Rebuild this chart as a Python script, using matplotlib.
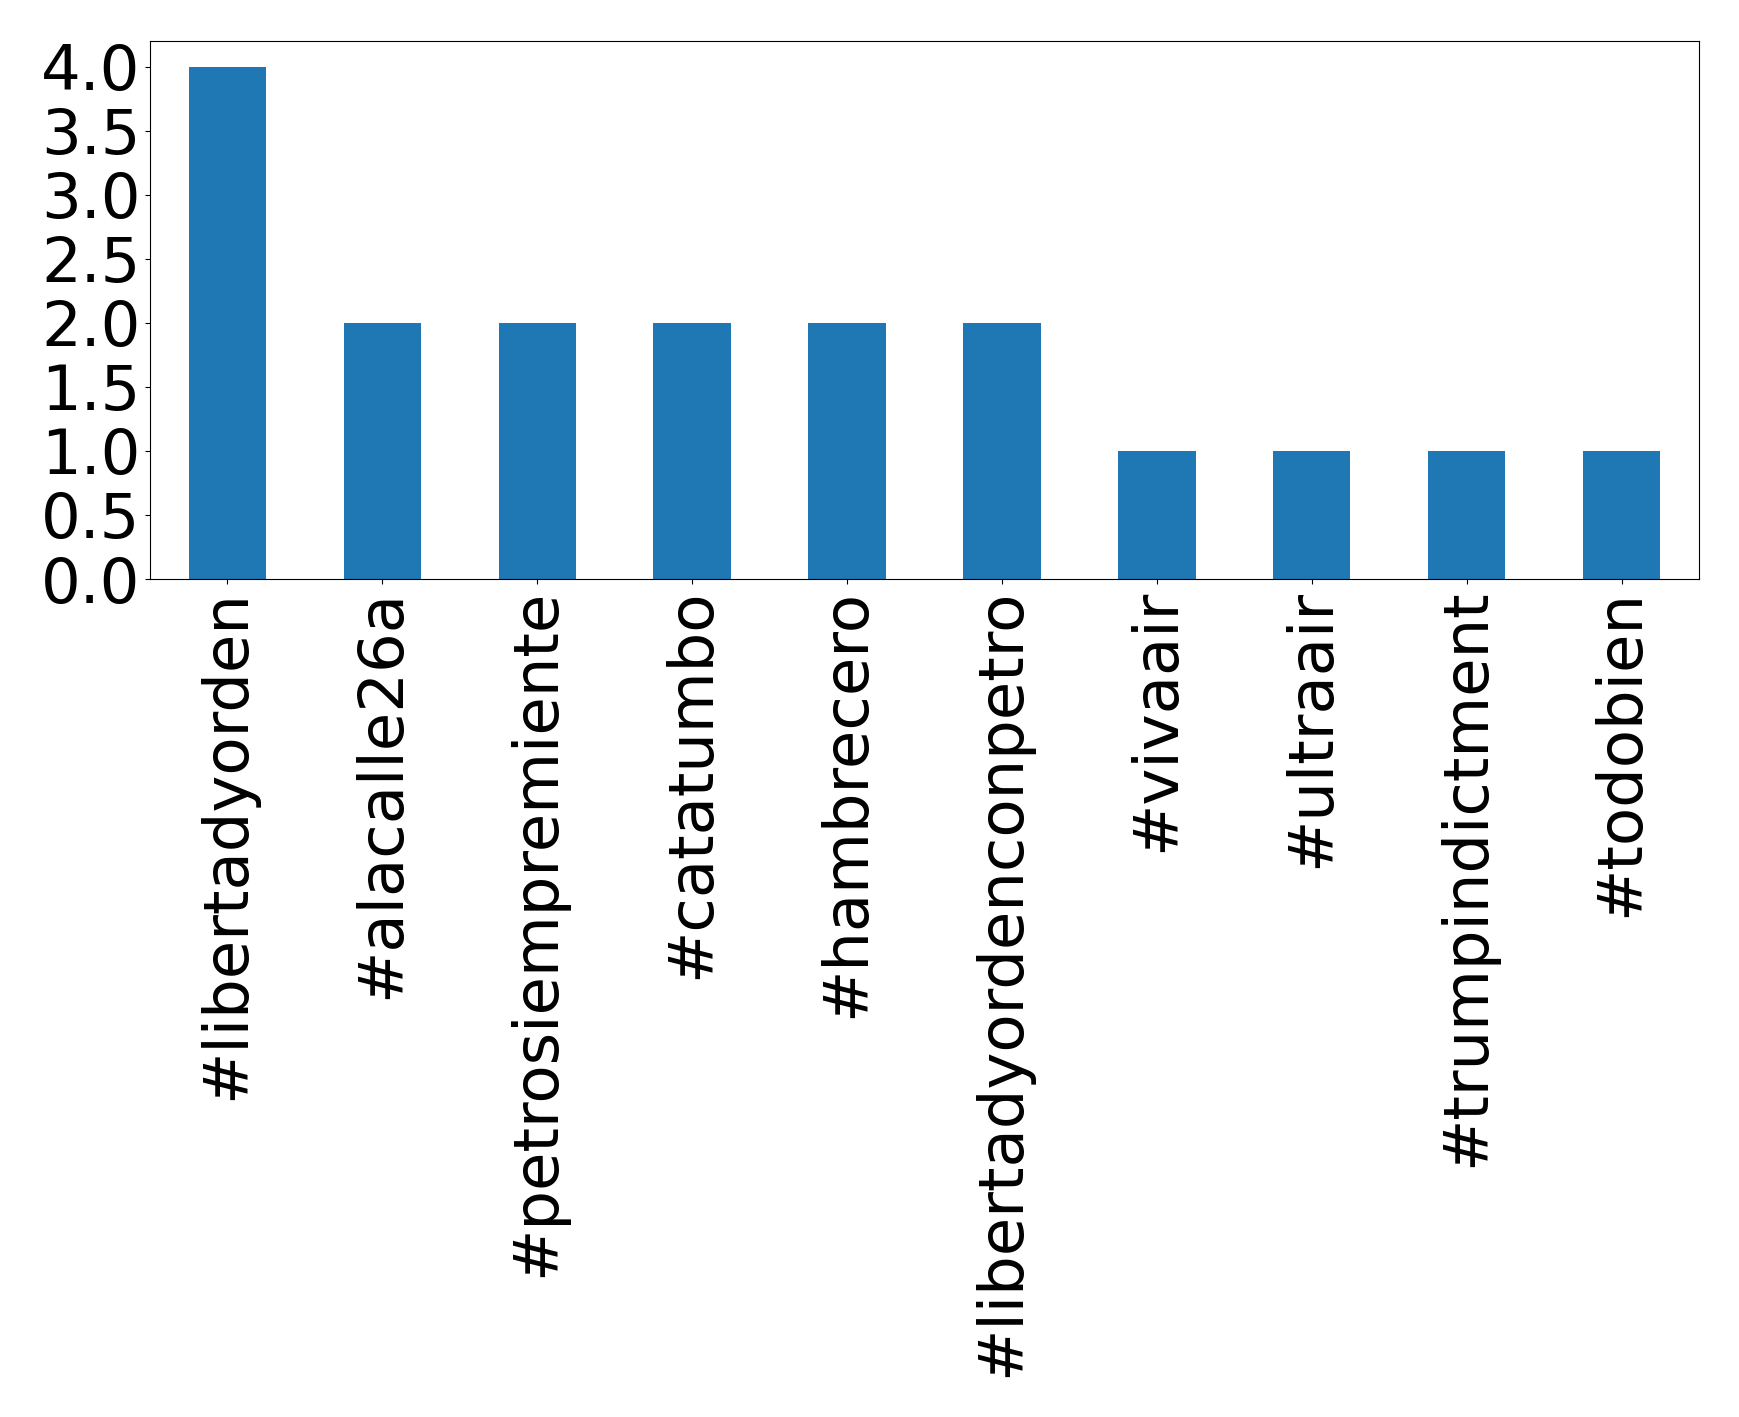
import matplotlib
matplotlib.use("Agg")
import matplotlib.pyplot as plt
import numpy as np

# hashtag counts
hashtags = ['#libertadyorden', '#alacalle26a', '#petrosiempremiente', '#catatumbo',
            '#hambrecero', '#libertadyordenconpetro', '#vivaair', '#ultraair',
            '#trumpindictment', '#todobien']
counts = [4, 2, 2, 2, 2, 2, 1, 1, 1, 1]

fig = plt.figure(figsize=(17.39, 14.17), dpi=100)
ax = fig.add_axes([150 / 1739, 1 - 579 / 1417, (1699 - 150) / 1739, (579 - 41) / 1417])

x = np.arange(len(hashtags))
ax.bar(x, counts, width=0.5, color='#1f77b4')
ax.set_xlim(-0.5, len(hashtags) - 0.5)
ax.set_xticks(x)
ax.set_xticklabels(hashtags, rotation=90, fontsize=45)
ax.set_yticks(np.arange(0, 4.5, 0.5))
ax.tick_params(axis='y', labelsize=45)

fig.savefig('out.png', dpi=100)
